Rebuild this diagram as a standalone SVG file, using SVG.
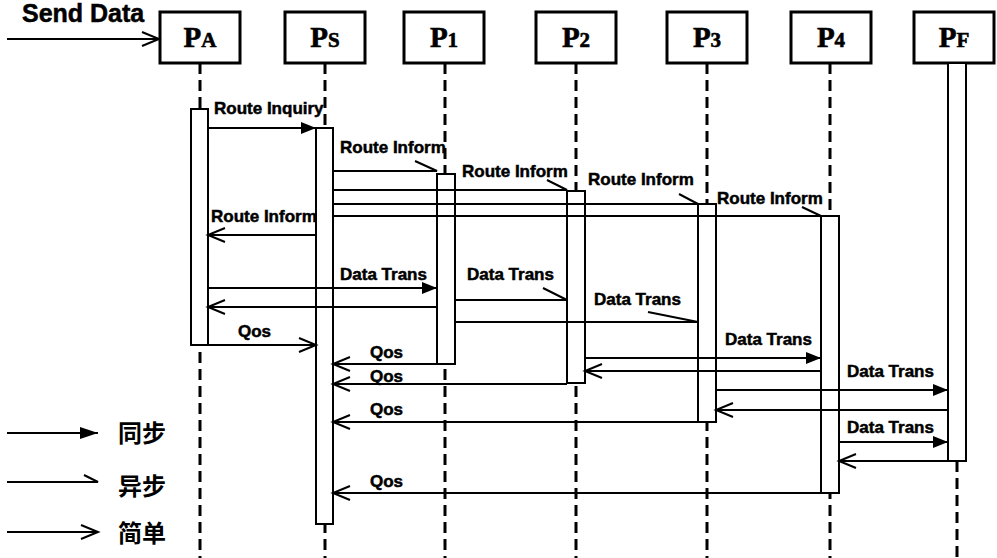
<svg xmlns="http://www.w3.org/2000/svg" width="997" height="558" viewBox="0 0 997 558">
<defs>
<style>
.box{fill:#fff;stroke:#000;stroke-width:3}
.life{stroke:#000;stroke-width:3;stroke-dasharray:11 6;fill:none}
.bar{fill:#fff;stroke:#000;stroke-width:2}
.hd{font-family:"Liberation Serif","Times New Roman",serif;font-weight:bold;fill:#000;stroke:#000;stroke-width:0.6}
.lbl{font-family:"Liberation Sans",Arial,sans-serif;font-weight:bold;font-size:17px;fill:#000;stroke:#000;stroke-width:0.5}
.cjk{font-family:"Liberation Sans","Noto Sans CJK SC",sans-serif;font-weight:bold;font-size:24px;fill:#000}
.msg{stroke:#000;stroke-width:2;fill:none}
.sync{marker-end:url(#filled)}
.simple{marker-end:url(#open)}
</style>
<marker id="filled" markerUnits="userSpaceOnUse" markerWidth="16" markerHeight="14" refX="15" refY="6" orient="auto" overflow="visible">
<path d="M0,0 L15,6 L0,12 z" fill="#000"/>
</marker>
<marker id="open" markerUnits="userSpaceOnUse" markerWidth="20" markerHeight="16" refX="17" refY="7" orient="auto" overflow="visible">
<path d="M0,0 L17,7 L0,14" fill="none" stroke="#000" stroke-width="2"/>
</marker>
<marker id="filled-lg" markerUnits="userSpaceOnUse" markerWidth="20" markerHeight="14" refX="18" refY="6" orient="auto" overflow="visible">
<path d="M0,0 L18,6 L0,12 z" fill="#000"/>
</marker>
</defs>
<rect width="997" height="558" fill="#fff"/>

<g id="send-data">
<text x="22" y="22" font-family="'Liberation Sans',Arial,sans-serif" font-weight="bold" font-size="25" stroke="#000" stroke-width="0.5">Send Data</text>
</g>

<g id="node-PA">
<line class="life" x1="200" y1="63" x2="200" y2="558"/>
<rect class="box" x="160" y="12" width="80" height="51"/>
<text class="hd" x="200" y="47" text-anchor="middle"><tspan font-size="29">P</tspan><tspan font-size="21">A</tspan></text>
<rect class="bar" x="191" y="109" width="17" height="236"/>
</g>
<g id="node-PS">
<line class="life" x1="325" y1="63" x2="325" y2="558"/>
<rect class="box" x="285" y="12" width="80" height="51"/>
<text class="hd" x="325" y="47" text-anchor="middle"><tspan font-size="29">P</tspan><tspan font-size="21">S</tspan></text>
<rect class="bar" x="316" y="128" width="17" height="396"/>
</g>
<g id="node-P1">
<line class="life" x1="445" y1="63" x2="445" y2="558"/>
<rect class="box" x="404" y="12" width="80" height="51"/>
<text class="hd" x="444" y="47" text-anchor="middle"><tspan font-size="29">P</tspan><tspan font-size="21">1</tspan></text>
<rect class="bar" x="437" y="174" width="18" height="190"/>
</g>
<g id="node-P2">
<line class="life" x1="576" y1="63" x2="576" y2="558"/>
<rect class="box" x="536" y="12" width="80" height="51"/>
<text class="hd" x="576" y="47" text-anchor="middle"><tspan font-size="29">P</tspan><tspan font-size="21">2</tspan></text>
<rect class="bar" x="567" y="191" width="18" height="192"/>
</g>
<g id="node-P3">
<line class="life" x1="707" y1="63" x2="707" y2="558"/>
<rect class="box" x="667" y="12" width="80" height="51"/>
<text class="hd" x="707" y="47" text-anchor="middle"><tspan font-size="29">P</tspan><tspan font-size="21">3</tspan></text>
<rect class="bar" x="698" y="204" width="18" height="218"/>
</g>
<g id="node-P4">
<line class="life" x1="830" y1="63" x2="830" y2="558"/>
<rect class="box" x="791" y="12" width="80" height="51"/>
<text class="hd" x="831" y="47" text-anchor="middle"><tspan font-size="29">P</tspan><tspan font-size="21">4</tspan></text>
<rect class="bar" x="821" y="216" width="18" height="277"/>
</g>
<g id="node-PF">
<line class="life" x1="957" y1="461" x2="957" y2="558"/>
<rect class="box" x="914" y="12" width="80" height="51"/>
<text class="hd" x="954" y="47" text-anchor="middle"><tspan font-size="29">P</tspan><tspan font-size="21">F</tspan></text>
<rect class="bar" x="948" y="63" width="18" height="398"/>
</g>

<g id="connectors">
<line class="msg simple" x1="7" y1="39" x2="159" y2="39"/>
<line class="msg sync" x1="208" y1="128" x2="316" y2="128"/>
<line class="msg sync" x1="208" y1="288" x2="437" y2="288"/>
<line class="msg sync" x1="585" y1="358" x2="821" y2="358"/>
<line class="msg sync" x1="716" y1="390" x2="948" y2="390"/>
<line class="msg sync" x1="839" y1="442" x2="948" y2="442"/>
<path class="msg" d="M333,171 H437 L415,161"/>
<path class="msg" d="M333,190 H567 L547,180"/>
<path class="msg" d="M333,204 H698 L679,194"/>
<path class="msg" d="M333,216 H821 L802,207"/>
<path class="msg" d="M455,300 H567 L543,288"/>
<path class="msg" d="M455,322 H698 L648,312"/>
<line class="msg simple" x1="316" y1="235" x2="208" y2="235"/>
<line class="msg simple" x1="437" y1="307" x2="208" y2="307"/>
<line class="msg simple" x1="208" y1="345" x2="316" y2="345"/>
<line class="msg simple" x1="437" y1="364" x2="333" y2="364"/>
<line class="msg simple" x1="821" y1="371" x2="585" y2="371"/>
<line class="msg simple" x1="567" y1="384" x2="333" y2="384"/>
<line class="msg simple" x1="948" y1="410" x2="716" y2="410"/>
<line class="msg simple" x1="698" y1="422" x2="333" y2="422"/>
<line class="msg simple" x1="948" y1="461" x2="839" y2="461"/>
<line class="msg simple" x1="821" y1="493" x2="333" y2="493"/>
</g>

<g id="labels">
<text class="lbl" x="214" y="114">Route Inquiry</text>
<text class="lbl" x="340" y="153">Route Inform</text>
<text class="lbl" x="462" y="177">Route Inform</text>
<text class="lbl" x="588" y="185">Route Inform</text>
<text class="lbl" x="717" y="204">Route Inform</text>
<text class="lbl" x="211" y="222">Route Inform</text>
<text class="lbl" x="340" y="280">Data Trans</text>
<text class="lbl" x="467" y="280">Data Trans</text>
<text class="lbl" x="594" y="305">Data Trans</text>
<text class="lbl" x="725" y="345">Data Trans</text>
<text class="lbl" x="847" y="377">Data Trans</text>
<text class="lbl" x="847" y="433">Data Trans</text>
<text class="lbl" x="238" y="337">Qos</text>
<text class="lbl" x="370" y="358">Qos</text>
<text class="lbl" x="370" y="382">Qos</text>
<text class="lbl" x="370" y="415">Qos</text>
<text class="lbl" x="370" y="487">Qos</text>
</g>

<g id="legend">
<line class="msg" x1="7" y1="433" x2="98" y2="433" marker-end="url(#filled-lg)"/>
<path class="msg" d="M7,482 H98 L84,475"/>
<line class="msg simple" x1="7" y1="532" x2="98" y2="532"/>
<text class="cjk" x="118" y="442">同步</text>
<text class="cjk" x="118" y="495">异步</text>
<text class="cjk" x="118" y="542">简单</text>
</g>
</svg>
